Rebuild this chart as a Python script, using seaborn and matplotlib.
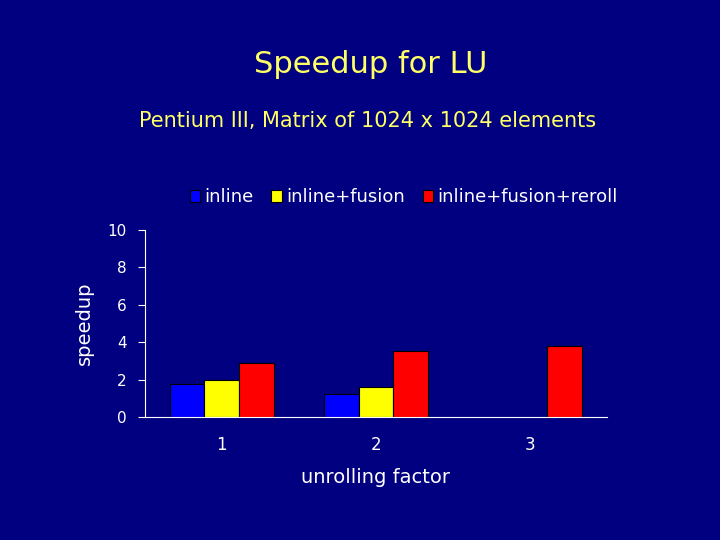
import pandas as pd
import numpy as np
import matplotlib
matplotlib.use('Agg')
import matplotlib.pyplot as plt
import seaborn as sns

factors = ["1", "2", "3"]
inline = [1.75, 1.2, np.nan]
inline_fusion = [1.95, 1.6, np.nan]
inline_fusion_reroll = [2.9, 3.55, 3.8]

df = pd.DataFrame({
    "factor": factors * 3,
    "speedup": inline + inline_fusion + inline_fusion_reroll,
    "version": ["inline"] * 3 + ["inline+fusion"] * 3 + ["inline+fusion+reroll"] * 3,
})

bg = "#000080"
sns.set_style("white")
plt.rcParams['font.family'] = ['DejaVu Sans']

fig = plt.figure(figsize=(7.2, 5.4), dpi=100, facecolor=bg)
ax = fig.add_axes([0.201, 0.228, 0.642, 0.346], facecolor=bg)
sns.barplot(data=df, x="factor", y="speedup", hue="version",
            palette=["#0000ff", "#ffff00", "#ff0000"], width=0.675, saturation=1,
            edgecolor="black", linewidth=0.8, ax=ax)

ax.set_ylim(0, 10)
ax.set_xlim(-0.5, 2.5)
ax.set_yticks([0, 2, 4, 6, 8, 10])
ax.set_xticks([0, 1, 2])
ax.set_xticks([0.5, 1.5, 2.5], minor=True)
ax.tick_params(axis="x", which="major", length=0, colors="white", labelsize=12, pad=14)
ax.tick_params(axis="x", which="minor", length=5, color="white", direction="out")
ax.tick_params(axis="y", length=5, colors="white", labelsize=11, direction="out", left=True, pad=8)
for s in ["top", "right"]:
    ax.spines[s].set_visible(False)
for s in ["left", "bottom"]:
    ax.spines[s].set_color("white")
ax.set_xlabel("unrolling factor", color="white", fontsize=14, labelpad=10)
ax.set_ylabel("speedup", color="white", fontsize=14, labelpad=10)

leg = ax.legend(loc="lower center", bbox_to_anchor=(0.56, 1.04), ncol=3, frameon=False,
                fontsize=13, handlelength=0.6, handleheight=0.6, handletextpad=0.2,
                columnspacing=1.0)
for t in leg.get_texts():
    t.set_color("white")

fig.text(0.515, 0.865, "Speedup for LU", color="#ffff66", fontsize=22, ha="center")
fig.text(0.51, 0.765, "Pentium III, Matrix of 1024 x 1024 elements", color="#ffff66",
         fontsize=15, ha="center")

fig.savefig("out.png", dpi=100, facecolor=bg)
